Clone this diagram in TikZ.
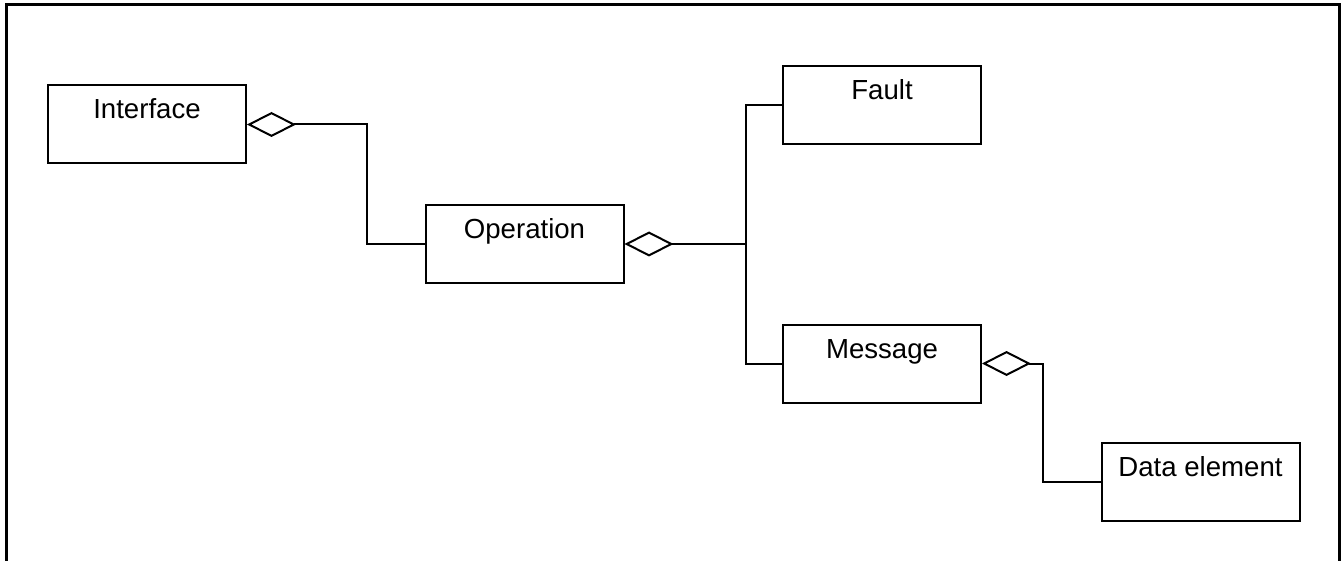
\documentclass[tikz,border=0pt]{standalone}
\usepackage{fontspec}
\setmainfont{Liberation Sans}
\usetikzlibrary{arrows.meta}

\tikzset{
  classbox/.style={draw, line width=1pt, inner sep=0pt, minimum width=99pt,
    text height=16.75pt, text depth=22.25pt, font=\fontsize{13.8}{16}\selectfont},
  aggr/.style={line width=1pt, {Diamond[open,length=24.5pt,width=12.5pt,line width=1pt]}-},
  link/.style={line width=1pt}
}

\begin{document}
\begin{tikzpicture}[x=0.5pt,y=-0.5pt]
    \useasboundingbox (0,0) rectangle (1343,561);
    \draw[line width=1.5pt] (6,561) -- (6,5) -- (1339,5) -- (1339,561);

\node[classbox] (iface) at (147,124.5) {Interface};
\node[classbox] (oper) at (524.5,244) {Operation};
\node[classbox] (fault) at (882,105) {Fault};
\node[classbox] (msg) at (882,363.5) {Message};
\node[classbox] (data) at (1200.5,482) {Data element};

%    interface has operations
\draw[aggr] (iface.east) -- ++(120,0) |- (oper.west);

%    operation has faults and messages
\draw[aggr] (oper.east) -- ++(121,0) coordinate (split);
\draw[link] (split) |- (fault.west);
\draw[link] (split) |- (msg.west);

%    message has data elements
\draw[aggr] (msg.east) -- ++(61,0) |- (data.west);

\end{tikzpicture}
\end{document}
